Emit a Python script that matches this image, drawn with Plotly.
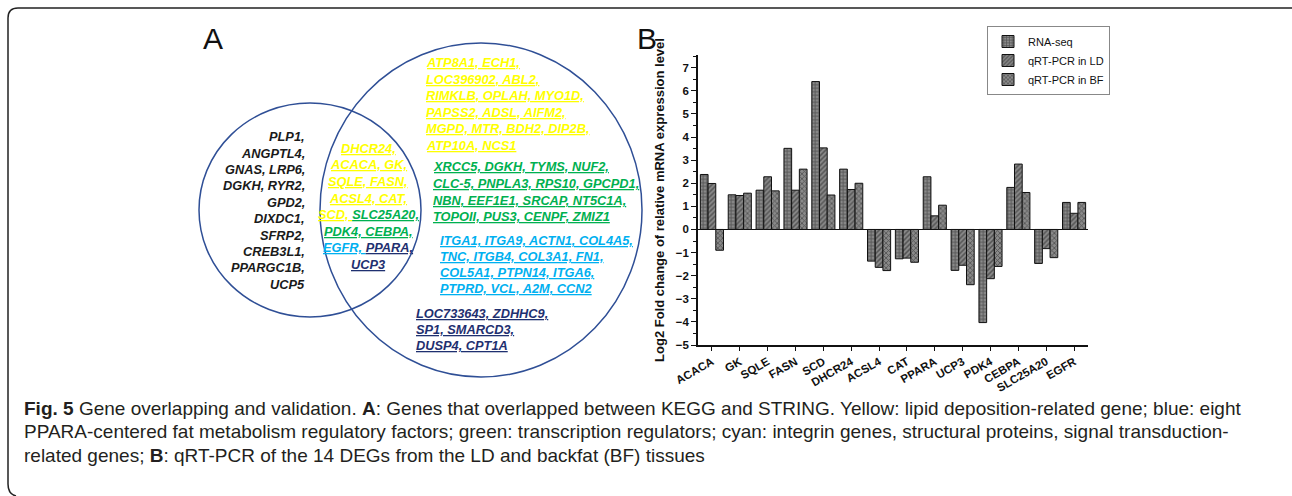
import plotly.graph_objects as go

W, H = 1292, 496

genes = ["ACACA", "GK", "SQLE", "FASN", "SCD", "DHCR24", "ACSL4", "CAT",
         "PPARA", "UCP3", "PDK4", "CEBPA", "SLC25A20", "EGFR"]
rna_seq = [2.38, 1.50, 1.70, 3.51, 6.40, 2.61, -1.37, -1.27, 2.28, -1.77, -4.03, 1.82, -1.47, 1.17]
qpcr_ld = [1.99, 1.47, 2.28, 1.70, 3.53, 1.73, -1.64, -1.24, 0.59, -1.55, -2.13, 2.83, -0.83, 0.70]
qpcr_bf = [-0.90, 1.57, 1.67, 2.61, 1.49, 2.00, -1.78, -1.42, 1.05, -2.39, -1.60, 1.60, -1.22, 1.17]
series_names = ["RNA-seq", "qRT-PCR in LD", "qRT-PCR in BF"]

left_only = ["PLP1,", "ANGPTL4,", "GNAS, LRP6,", "DGKH, RYR2,", "GPD2,", "DIXDC1,",
             "SFRP2,", "CREB3L1,", "PPARGC1B,", "UCP5"]
overlap_yellow = ["DHCR24,", "ACACA, GK,", "SQLE, FASN,", "ACSL4, CAT,"]
right_yellow = ["ATP8A1, ECH1,", "LOC396902, ABL2,", "RIMKLB, OPLAH, MYO1D,",
                "PAPSS2, ADSL, AIFM2,", "MGPD, MTR, BDH2, DIP2B,", "ATP10A, NCS1"]
right_green = ["XRCC5, DGKH, TYMS, NUF2,", "CLC-5, PNPLA3, RPS10, GPCPD1,",
               "NBN, EEF1E1, SRCAP, NT5C1A,", "TOPOII, PUS3, CENPF, ZMIZ1"]
right_cyan = ["ITGA1, ITGA9, ACTN1, COL4A5,", "TNC, ITGB4, COL3A1, FN1,",
              "COL5A1, PTPN14, ITGA6,", "PTPRD, VCL, A2M, CCN2"]
right_navy = ["LOC733643, ZDHHC9,", "SP1, SMARCD3,", "DUSP4, CPT1A"]

caption_lines = [
    "<b>Fig. 5</b> Gene overlapping and validation. <b>A</b>: Genes that overlapped between KEGG and STRING. Yellow: lipid deposition-related gene; blue: eight",
    "PPARA-centered fat metabolism regulatory factors; green: transcription regulators; cyan: integrin genes, structural proteins, signal transduction-",
    "related genes; <b>B</b>: qRT-PCR of the 14 DEGs from the LD and backfat (BF) tissues",
]

YEL, GRN, CYN, NAV, BLK = "#FFFF00", "#00B050", "#00B0F0", "#1F3070", "#1a1a1a"
CIRC = "#2F4F96"


def X(x):
    return x / W


def Y(y):
    return 1 - y / H


fig = go.Figure()
patterns = ["+", "/", "x"]
for name, vals, pat in zip(series_names, [rna_seq, qpcr_ld, qpcr_bf], patterns):
    fig.add_trace(go.Bar(
        x=genes, y=vals, name=name,
        marker=dict(color="#7a7a7a", line=dict(color="#111", width=1),
                    pattern=dict(shape=pat, fgcolor="#1e1e1e", bgcolor="#8a8a8a",
                                 size=3.5, solidity=0.45)),
    ))

ann = []
shapes = []

shapes.append(dict(type="circle", xref="paper", yref="paper",
                   x0=X(199), x1=X(421), y0=Y(317), y1=Y(103),
                   line=dict(color=CIRC, width=1.5)))
shapes.append(dict(type="circle", xref="paper", yref="paper",
                   x0=X(320), x1=X(642), y0=Y(377), y1=Y(43),
                   line=dict(color=CIRC, width=1.5)))

shapes.append(dict(type="path", xref="paper", yref="paper",
                   path=f"M {X(1292)},{Y(8)} L {X(18)},{Y(8)} Q {X(8)},{Y(8)} {X(8)},{Y(18)} "
                        f"L {X(8)},{Y(484)} Q {X(8)},{Y(494)} {X(16)},{Y(496)}",
                   line=dict(color="#222", width=1.5)))

VFONT = dict(family="Liberation Sans, Arial, sans-serif", size=12.8, weight="bold", style="italic")


def add_block(lines, x, y0, dy, color, anchor):
    for i, t in enumerate(lines):
        ann.append(dict(text=f"<u>{t}</u>" if color != BLK else t,
                        x=X(x), y=Y(y0 + i * dy), xref="paper", yref="paper",
                        xanchor=anchor, yanchor="middle", showarrow=False,
                        font=dict(VFONT, color=color)))


add_block(left_only, 307, 136.7, 16.4, BLK, "right")
add_block(overlap_yellow, 368, 148.3, 16.6, YEL, "center")
mixed = [
    (f"<span style='color:{YEL}'><u>SCD, </u></span><span style='color:{GRN}'><u>SLC25A20,</u></span>", GRN),
    ("<u>PDK4, CEBPA,</u>", GRN),
    (f"<span style='color:{CYN}'><u>EGFR, </u></span><span style='color:{NAV}'><u>PPARA,</u></span>", NAV),
    ("<u>UCP3</u>", NAV),
]
for i, (t, c) in enumerate(mixed):
    ann.append(dict(text=t, x=X(368), y=Y(148.3 + (4 + i) * 16.6), xref="paper", yref="paper",
                    xanchor="center", yanchor="middle", showarrow=False,
                    font=dict(VFONT, color=c)))
add_block(right_yellow, 424, 62.7, 16.5, YEL, "left")
add_block(right_green, 430.5, 166.7, 16.7, GRN, "left")
add_block(right_cyan, 438, 240, 16.1, CYN, "left")
add_block(right_navy, 414, 313.3, 16.2, NAV, "left")

ann.append(dict(text="A", x=X(213), y=Y(38), xref="paper", yref="paper", showarrow=False,
                xanchor="center", yanchor="middle",
                font=dict(family="Liberation Sans, Arial", size=30, color="#111")))
ann.append(dict(text="B", x=X(647), y=Y(38), xref="paper", yref="paper", showarrow=False,
                xanchor="center", yanchor="middle",
                font=dict(family="Liberation Sans, Arial", size=30, color="#111")))

for i, t in enumerate(caption_lines):
    ann.append(dict(text=t, x=X(22), y=Y(408 + i * 23.5), xref="paper", yref="paper",
                    xanchor="left", yanchor="middle", showarrow=False,
                    font=dict(family="Liberation Sans", size=19, color="#231f20")))

fig.update_layout(
    width=W, height=H, autosize=False,
    margin=dict(l=0, r=0, t=0, b=0, pad=0, autoexpand=False),
    paper_bgcolor="white", plot_bgcolor="white",
    barmode="group", bargap=0.17, bargroupgap=0,
    shapes=shapes, annotations=ann,
    showlegend=True,
    legend=dict(x=X(987), y=Y(26), xanchor="left", yanchor="top",
                bordercolor="#888", borderwidth=1, bgcolor="white",
                font=dict(family="Liberation Sans, Arial", size=11, color="#111"),
                tracegroupgap=0, itemwidth=30),
    xaxis=dict(domain=[X(698), X(1088)], range=[-0.5, 13.5], automargin=False,
               showline=True, linecolor="#111", linewidth=1.5,
               ticks="outside", ticklen=4, tickcolor="#111", tickwidth=1.2,
               minor=dict(ticks="outside", ticklen=4, tickcolor="#111", dtick=0.5, tick0=0.5),
               tickangle=-30, showgrid=False, zeroline=False,
               tickfont=dict(family="Liberation Sans, Arial", size=11.5, color="#111", weight="bold")),
    yaxis=dict(domain=[Y(345), Y(55)], range=[-5, 7.55], automargin=False,
               showline=True, linecolor="#111", linewidth=1.5,
               ticks="outside", ticklen=5, tickcolor="#111", tickwidth=1.2,
               dtick=1, tick0=0,
               minor=dict(ticks="outside", ticklen=3, tickcolor="#111", dtick=0.5),
               showgrid=False, zeroline=True, zerolinecolor="#111", zerolinewidth=1.2,
               tickfont=dict(family="Liberation Sans, Arial", size=11.5, color="#111", weight="bold"),
               title=dict(text="Log2 Fold change of relative mRNA expression level", standoff=8,
                          font=dict(family="Liberation Sans, Arial", size=13, color="#111", weight="bold"))),
)

fig.write_html("out.html", config={"displayModeBar": False},
               post_script="document.body.style.margin='0';")
